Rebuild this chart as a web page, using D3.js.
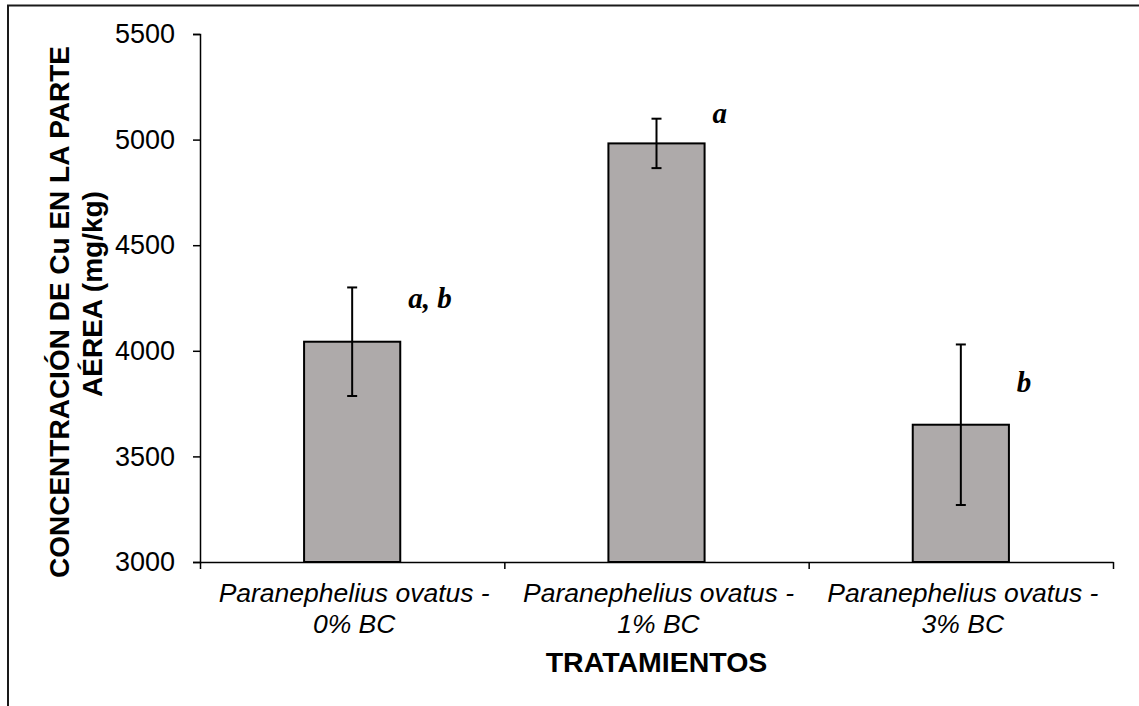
<!DOCTYPE html>
<html>
<head>
<meta charset="utf-8">
<script src="https://cdn.jsdelivr.net/npm/d3@7"></script>
<style>
  html, body { margin: 0; padding: 0; background: #fff; }
  svg { display: block; }
</style>
</head>
<body>
<svg id="chart" width="1139" height="706"></svg>
<script>
// Cu concentration in the aerial part per treatment (mean ± error)
const categories = ["0% BC", "1% BC", "3% BC"];
const catLine1 = ["Paranephelius ovatus -", "Paranephelius ovatus -", "Paranephelius ovatus -"];
const catLine2 = ["0% BC", "1% BC", "3% BC"];
const means = [4043, 4982, 3650];
const errors = [257, 117, 380];
const letters = ["a, b", "a", "b"];
const letterAt = [4203, 5080, 3805];
const yTicks = [3000, 3500, 4000, 4500, 5000, 5500];

const svg = d3.select("#chart");
const plotLeft = 200, plotRight = 1113, plotTop = 34, plotBottom = 562;

// outer frame (top and left edges)
svg.append("path")
  .attr("d", `M8,706 L8,5.5 L1139,5.5`)
  .attr("fill", "none").attr("stroke", "#1a1a1a").attr("stroke-width", 2);

const x = d3.scaleBand().domain(categories).range([plotLeft, plotRight]).paddingInner(0).paddingOuter(0);
const xEdge = d3.scaleLinear().domain([0, categories.length]).range([plotLeft, plotRight]);
const y = d3.scaleLinear().domain([3000, 5500]).range([plotBottom, plotTop]);

const barW = x.bandwidth() * 0.316;

// y axis
const yAxis = svg.append("g")
  .attr("transform", `translate(${plotLeft},0)`)
  .call(d3.axisLeft(y).tickValues(yTicks).tickSize(7).tickPadding(18).tickFormat(d3.format("d")));
yAxis.select(".domain").attr("stroke", "#000").attr("stroke-width", 1.5);
yAxis.selectAll(".tick line").attr("stroke", "#000").attr("stroke-width", 1.5);
yAxis.selectAll(".tick text")
  .attr("font-family", "Arial, 'Liberation Sans', sans-serif")
  .attr("font-size", 27).attr("fill", "#000");

// bars
svg.append("g").selectAll("rect")
  .data(categories)
  .join("rect")
  .attr("x", d => x(d) + x.bandwidth() / 2 - barW / 2)
  .attr("y", (d, i) => y(means[i]))
  .attr("width", barW)
  .attr("height", (d, i) => y(3000) - y(means[i]))
  .attr("fill", "#AEAAAA")
  .attr("stroke", "#000").attr("stroke-width", 2);

// x axis with ticks at category boundaries
const xAxis = svg.append("g")
  .attr("transform", `translate(0,${plotBottom})`)
  .call(d3.axisBottom(xEdge).tickValues(d3.range(categories.length + 1)).tickSize(7).tickSizeOuter(0).tickFormat(""));
xAxis.select(".domain").attr("stroke", "#000").attr("stroke-width", 1.5);
xAxis.selectAll(".tick line").attr("stroke", "#000").attr("stroke-width", 1.5);

// error bars
const eb = svg.append("g").attr("stroke", "#000").attr("stroke-width", 2).attr("fill", "none");
categories.forEach((c, i) => {
  const cx = x(c) + x.bandwidth() / 2;
  const y1 = y(means[i] + errors[i]), y2 = y(means[i] - errors[i]);
  eb.append("line").attr("x1", cx).attr("x2", cx).attr("y1", y1).attr("y2", y2);
  eb.append("line").attr("x1", cx - 5).attr("x2", cx + 5).attr("y1", y1).attr("y2", y1);
  eb.append("line").attr("x1", cx - 5).attr("x2", cx + 5).attr("y1", y2).attr("y2", y2);
});

// significance letters
svg.append("g").selectAll("text")
  .data(categories)
  .join("text")
  .attr("x", d => x(d) + x.bandwidth() / 2 + 56)
  .attr("y", (d, i) => y(letterAt[i]))
  .attr("font-family", "'Times New Roman', 'Liberation Serif', serif")
  .attr("font-weight", "bold").attr("font-style", "italic")
  .attr("font-size", 29).attr("fill", "#000")
  .text((d, i) => letters[i]);

// category labels
const catG = svg.append("g")
  .attr("font-family", "Arial, 'Liberation Sans', sans-serif")
  .attr("font-style", "italic").attr("font-size", 26.5).attr("fill", "#000")
  .attr("text-anchor", "middle");
categories.forEach((c, i) => {
  const cx = x(c) + x.bandwidth() / 2;
  catG.append("text").attr("x", cx + 2).attr("y", 602).text(catLine1[i]);
  catG.append("text").attr("x", cx + 2).attr("y", 633).text(catLine2[i]);
});

// axis titles
svg.append("text")
  .attr("x", (plotLeft + plotRight) / 2).attr("y", 672)
  .attr("text-anchor", "middle")
  .attr("font-family", "Arial, 'Liberation Sans', sans-serif")
  .attr("font-weight", "bold").attr("font-size", 28.5).attr("fill", "#000")
  .text("TRATAMIENTOS");

const yt = svg.append("g")
  .attr("font-family", "Arial, 'Liberation Sans', sans-serif")
  .attr("font-weight", "bold").attr("font-size", 28).attr("fill", "#000")
  .attr("text-anchor", "middle");
yt.append("text").attr("transform", "translate(69,312) rotate(-90)").text("CONCENTRACIÓN DE Cu EN LA PARTE");
yt.append("text").attr("transform", "translate(102,294) rotate(-90)").text("AÉREA (mg/kg)");
</script>
</body>
</html>
